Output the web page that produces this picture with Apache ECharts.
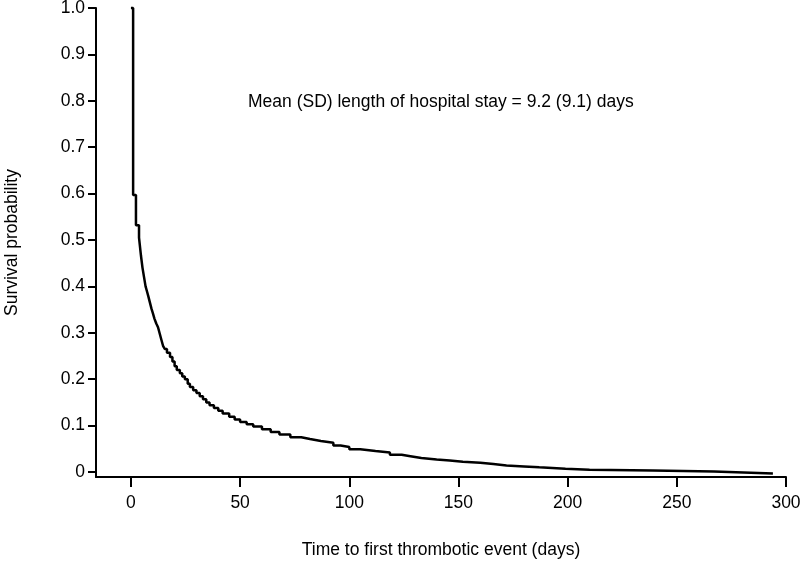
<!DOCTYPE html>
<html>
<head>
<meta charset="utf-8">
<script src="https://cdn.jsdelivr.net/npm/echarts@6/dist/echarts.min.js"></script>
<style>
  html, body { margin: 0; padding: 0; background: #fff; }
  #chart { width: 800px; height: 562px; }
</style>
</head>
<body>
<div id="chart"></div>
<script>
// Kaplan-Meier step curve: time (days) and survival probability
const times = [0, 1, 2.3, 3.7, 4.6, 5.3, 6, 6.7, 7.3, 8, 8.7, 9.4, 10, 10.8, 11.6, 12.4, 13.2, 14, 14.7, 15.5,
  16.5, 17.9, 19, 20, 21, 22.4, 23.5, 24.7, 26, 27, 28.5, 30, 31.5, 33, 34.5, 36, 38, 40, 42, 45,
  47.5, 50, 53, 56, 60, 64, 68, 73, 78, 82, 87, 92.7, 96, 100, 105, 112, 118.6, 124, 128, 133,
  140, 146, 152, 160, 166, 172, 180, 187, 199, 210, 239, 267, 294];
const survival = [1.0, 0.597, 0.532, 0.505, 0.466, 0.44, 0.42, 0.40, 0.39, 0.378, 0.365, 0.352, 0.343, 0.33, 0.32, 0.312, 0.298, 0.284, 0.272, 0.265,
  0.257, 0.248, 0.238, 0.228, 0.22, 0.213, 0.206, 0.2, 0.19, 0.183, 0.176, 0.17, 0.163, 0.157, 0.15, 0.144, 0.138, 0.132, 0.126, 0.119,
  0.113, 0.108, 0.103, 0.098, 0.092, 0.086, 0.081, 0.075, 0.071, 0.067, 0.063, 0.057, 0.054, 0.049, 0.045, 0.042, 0.037, 0.034, 0.030, 0.027,
  0.025, 0.022, 0.020, 0.017, 0.014, 0.012, 0.010, 0.007, 0.005, 0.003, 0.001, -0.003, -0.003];
const xTicks = [0, 50, 100, 150, 200, 250, 300];
const yTicks = [0, 0.1, 0.2, 0.3, 0.4, 0.5, 0.6, 0.7, 0.8, 0.9, 1.0];
const xTitle = 'Time to first thrombotic event (days)';
const yTitle = 'Survival probability';
const note = 'Mean (SD) length of hospital stay = 9.2 (9.1) days';

const data = times.map((t, i) => [t, survival[i]]);
const font = 'Liberation Sans, Arial, Helvetica, sans-serif';
const fs = 17.5;
const chart = echarts.init(document.getElementById('chart'), null, { renderer: 'canvas' });
chart.setOption({
  animation: false,
  backgroundColor: '#fff',
  grid: { left: 96, right: 14, top: 8, bottom: 85, containLabel: false, outerBoundsMode: 'none' },
  title: {
    text: note, left: 248, top: 93, padding: 0,
    textStyle: { fontFamily: font, fontSize: fs, fontWeight: 'normal', color: '#000' }
  },
  xAxis: {
    type: 'value', min: -16, max: 300,
    name: xTitle, nameLocation: 'middle', nameGap: 64,
    nameTextStyle: { fontFamily: font, fontSize: fs, color: '#000' },
    axisLine: { show: true, onZero: false, lineStyle: { color: '#000', width: 2 } },
    axisTick: { show: true, length: 10, customValues: xTicks, lineStyle: { color: '#000', width: 2 } },
    axisLabel: { customValues: xTicks, margin: 17, fontFamily: font, fontSize: fs, color: '#000' },
    splitLine: { show: false }
  },
  yAxis: {
    type: 'value', min: -0.0108, max: 1.0,
    name: yTitle, nameLocation: 'middle', nameGap: 75,
    nameTextStyle: { fontFamily: font, fontSize: fs, color: '#000' },
    axisLine: { show: true, onZero: false, lineStyle: { color: '#000', width: 2 } },
    axisTick: { show: true, length: 8, customValues: yTicks, lineStyle: { color: '#000', width: 2 } },
    axisLabel: {
      customValues: yTicks, margin: 11, fontFamily: font, fontSize: fs, color: '#000',
      formatter: v => (Math.abs(v) < 1e-9 ? '0' : v.toFixed(1))
    },
    splitLine: { show: false }
  },
  series: [{
    type: 'line', step: 'end', data: data, showSymbol: false, symbol: 'none',
    lineStyle: { color: '#000', width: 2.5 }, clip: false
  }]
});
</script>
</body>
</html>
